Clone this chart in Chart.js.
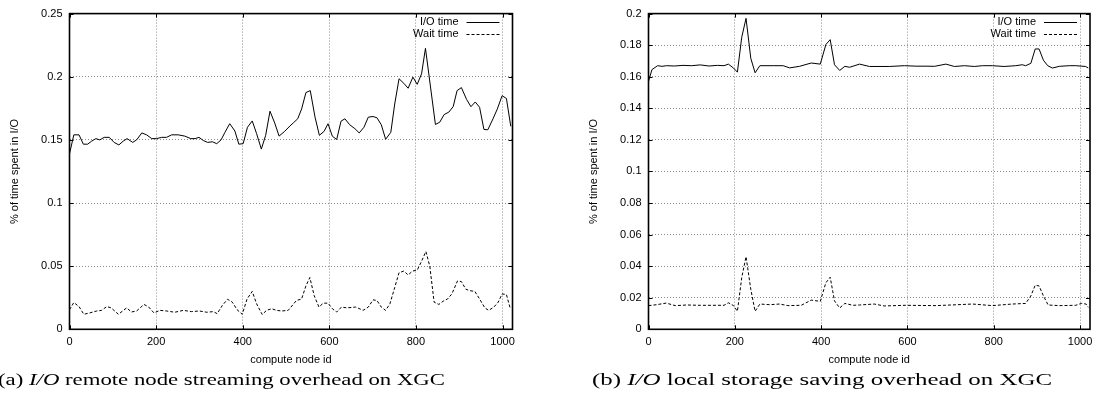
<!DOCTYPE html>
<html>
<head>
<meta charset="utf-8">
<script src="https://cdn.jsdelivr.net/npm/chart.js@4.4.0/dist/chart.umd.min.js"></script>
<style>
  html, body { margin: 0; padding: 0; background: #fff; width: 1101px; height: 411px; overflow: hidden; position: relative; }
  canvas { position: absolute; top: 0; }
  #cA { left: 0px; }
  #cB { left: 579px; }
  .cap { position: absolute; top: 370px; font-family: "Liberation Serif", "Times New Roman", serif; font-size: 17.5px; line-height: 18px; white-space: nowrap; color: #000; transform-origin: 0 0; }
</style>
</head>
<body>
<canvas id="cA" width="550" height="411"></canvas>
<canvas id="cB" width="522" height="411"></canvas>
<div class="cap" id="capA">(a) <i>I/O</i> remote node streaming overhead on XGC</div>
<div class="cap" id="capB">(b) <i>I/O</i> local storage saving overhead on XGC</div>
<script>
// ---------- data ----------
const seriesLabels = ['I/O time', 'Wait time'];
const xTitle = 'compute node id';
const yTitle = '% of time spent in I/O';
const xTickValues = [0, 200, 400, 600, 800, 1000];
const xTickLabels = ['0', '200', '400', '600', '800', '1000'];
const yTickLabelsA = ['0', '0.05', '0.1', '0.15', '0.2', '0.25'];
const yTickLabelsB = ['0', '0.02', '0.04', '0.06', '0.08', '0.1', '0.12', '0.14', '0.16', '0.18', '0.2'];

// (a) remote node streaming
const ioNodesA = [0,10,22,32,42,51,61,70,80,92,
  103,114,124,133,146,155,167,178,190,201,
  213,224,236,251,266,280,290,299,309,319,
  330,340,350,359,370,382,391,401,411,422,
  432,443,453,463,474,484,497,509,517,527,
  536,546,556,567,577,588,597,607,617,627,
  636,647,659,669,680,690,701,710,720,730,
  742,751,761,772,782,793,803,813,822,845,
  855,865,876,886,895,905,917,927,937,947,
  957,966,978,988,999,1009,1019];
const ioTimeA = [0.139,0.154,0.154,0.1466,0.1466,0.149,0.151,0.150,0.152,0.152,
  0.148,0.146,0.149,0.151,0.148,0.150,0.1555,0.154,0.151,0.151,
  0.152,0.152,0.154,0.154,0.153,0.151,0.151,0.152,0.1495,0.148,
  0.1485,0.147,0.150,0.156,0.1628,0.157,0.1466,0.147,0.160,0.165,
  0.155,0.1427,0.1536,0.1727,0.1633,0.153,0.1568,0.161,0.1635,0.1667,
  0.1745,0.1875,0.189,0.168,0.1536,0.1568,0.1628,0.1529,0.1503,0.1648,
  0.1667,0.162,0.1589,0.1555,0.160,0.168,0.1685,0.1675,0.162,0.1505,
  0.156,0.1784,0.1984,0.1948,0.1909,0.1997,0.194,0.2023,0.2225,0.1622,
  0.164,0.170,0.172,0.1763,0.189,0.1914,0.182,0.1763,0.180,0.1758,
  0.1583,0.158,0.1667,0.1745,0.185,0.1828,0.1607];
const waitNodesA = [0,10,22,33,47,63,74,86,96,113,
  132,143,155,172,183,195,209,224,243,263,
  282,300,317,332,341,353,365,376,387,399,
  410,422,432,445,455,467,478,490,505,524,
  536,546,555,565,576,586,597,607,617,628,
  640,661,678,690,701,710,720,730,740,751,
  761,772,782,792,803,813,823,832,842,853,
  863,873,883,896,905,915,924,936,947,959,
  968,980,990,999,1009,1018];
const waitTimeA = [0.0155,0.0212,0.018,0.0119,0.013,0.0145,0.015,0.018,0.017,0.0119,
  0.017,0.0137,0.0145,0.0197,0.0176,0.013,0.015,0.0145,0.0135,0.015,
  0.014,0.0145,0.0135,0.014,0.0124,0.0189,0.0238,0.0215,0.0155,0.0119,
  0.024,0.030,0.0202,0.0117,0.015,0.0163,0.015,0.0145,0.015,0.0228,
  0.024,0.0344,0.041,0.0267,0.0176,0.0207,0.0207,0.0163,0.0137,0.0176,
  0.017,0.0176,0.015,0.0176,0.0233,0.0228,0.0176,0.015,0.0202,0.0331,
  0.0448,0.0461,0.043,0.0461,0.0469,0.0539,0.0616,0.050,0.0215,0.0197,
  0.0223,0.024,0.028,0.0383,0.0378,0.0318,0.0306,0.030,0.024,0.017,
  0.015,0.0176,0.0215,0.028,0.0275,0.0163];

// (b) local storage saving
const ioNodesB = [0,8,21,31,42,60,80,100,120,140,
  160,175,185,197,206,216,226,237,247,258,
  289,312,327,350,377,398,411,421,431,443,
  455,466,489,512,558,593,620,643,663,689,
  709,732,755,774,797,824,851,866,874,886,
  896,905,915,925,936,952,975,990,1013,1019];
const ioTimeB = [0.157,0.1645,0.167,0.1666,0.167,0.1668,0.1672,0.167,0.1675,0.1668,
  0.1672,0.167,0.168,0.1655,0.1629,0.185,0.197,0.1717,0.1625,0.167,
  0.167,0.167,0.1656,0.1666,0.1687,0.168,0.1804,0.1835,0.1676,0.164,
  0.1666,0.166,0.168,0.1665,0.1665,0.167,0.1667,0.1667,0.1666,0.168,
  0.1665,0.167,0.1665,0.167,0.167,0.1665,0.167,0.1676,0.167,0.1685,
  0.1776,0.1776,0.1705,0.167,0.1655,0.1666,0.167,0.167,0.1665,0.1655];
const waitNodesB = [0,19,41,62,89,120,158,175,185,197,
  206,216,226,237,247,258,281,304,323,354,
  377,398,411,421,431,443,455,474,489,523,
  546,596,666,751,797,843,874,886,896,905,
  915,926,952,990,1003,1014,1019];
const waitTimeB = [0.015,0.0156,0.0166,0.015,0.0154,0.0152,0.0152,0.0152,0.0168,0.015,
  0.0114,0.0327,0.046,0.0254,0.0114,0.016,0.0156,0.016,0.015,0.0152,
  0.0185,0.0177,0.0295,0.033,0.018,0.0135,0.0164,0.0152,0.0154,0.016,
  0.0148,0.0152,0.015,0.016,0.015,0.016,0.0164,0.0212,0.0279,0.0275,
  0.0212,0.0154,0.015,0.0152,0.0164,0.016,0.0139];

// ---------- chart ----------
Chart.defaults.font.family = '"Liberation Sans", Arial, Helvetica, sans-serif';
Chart.defaults.font.size = 11;
Chart.defaults.color = '#000';

const frameAndLegend = {
  id: 'frameAndLegend',
  afterDatasetsDraw(chart) {
    const ctx = chart.ctx;
    const a = chart.chartArea;
    const xs = chart.scales.x, ys = chart.scales.y;
    ctx.save();
    ctx.strokeStyle = '#000';
    ctx.lineWidth = 1;
    ctx.setLineDash([]);
    const tl = 4;
    ctx.beginPath();
    xs.ticks.forEach(t => {
      const px = Math.round(xs.getPixelForValue(t.value)) + 0.5;
      ctx.moveTo(px, a.bottom); ctx.lineTo(px, a.bottom - tl);
      ctx.moveTo(px, a.top); ctx.lineTo(px, a.top + tl);
    });
    ys.ticks.forEach(t => {
      const py = Math.round(ys.getPixelForValue(t.value)) + 0.5;
      ctx.moveTo(a.left, py); ctx.lineTo(a.left + tl, py);
      ctx.moveTo(a.right, py); ctx.lineTo(a.right - tl, py);
    });
    ctx.stroke();
    ctx.lineWidth = 1.6;
    ctx.strokeRect(a.left, a.top, a.right - a.left, a.bottom - a.top);
    // key, top-right: label text left of the line sample
    ctx.font = '11px "Liberation Sans", Arial, sans-serif';
    ctx.textAlign = 'right';
    ctx.textBaseline = 'middle';
    ctx.fillStyle = '#000';
    chart.data.datasets.forEach((ds, i) => {
      const y = a.top + 8.5 + i * 12.3;
      ctx.fillText(ds.label, a.right - 54, y);
      ctx.beginPath();
      ctx.lineWidth = 1;
      ctx.setLineDash(ds.borderDash || []);
      ctx.moveTo(a.right - 46, Math.round(y) + 0.5);
      ctx.lineTo(a.right - 13, Math.round(y) + 0.5);
      ctx.stroke();
      ctx.setLineDash([]);
    });
    ctx.restore();
  }
};

function makeChart(id, ioN, ioV, wN, wV, yMax, yStep, yLabels, padRight) {
  const ioData = ioN.map((x, i) => ({ x: x, y: ioV[i] }));
  const wData = wN.map((x, i) => ({ x: x, y: wV[i] }));
  return new Chart(document.getElementById(id), {
    type: 'line',
    data: {
      datasets: [
        { label: seriesLabels[0], data: ioData, borderColor: '#000', borderWidth: 1, pointRadius: 0, tension: 0, fill: false },
        { label: seriesLabels[1], data: wData, borderColor: '#000', borderWidth: 1, borderDash: [3, 2], pointRadius: 0, tension: 0, fill: false }
      ]
    },
    options: {
      responsive: false,
      animation: false,
      events: [],
      layout: { padding: { left: 0, top: 8, right: padRight, bottom: 36.7 } },
      plugins: { legend: { display: false }, tooltip: { enabled: false } },
      scales: {
        x: {
          type: 'linear', min: 0, max: 1023,
          afterFit: (s) => { s.height = 45; },
          afterBuildTicks: (s) => { s.ticks = xTickValues.map(v => ({ value: v })); },
          ticks: { autoSkip: false, padding: 6, maxRotation: 0,
                   callback: (v) => xTickLabels[xTickValues.indexOf(v)] },
          grid: { color: '#8a8a8a', lineWidth: 1, drawTicks: false },
          border: { display: false, dash: [1, 2] },
          title: { display: true, text: xTitle, padding: { top: 0, bottom: 8 }, font: { size: 11 } }
        },
        y: {
          type: 'linear', min: 0, max: yMax,
          afterFit: (s) => { s.width = 69.5; },
          ticks: { stepSize: yStep, padding: 7,
                   callback: (v) => yLabels[Math.round(v / yStep)] },
          grid: { color: '#8a8a8a', lineWidth: 1, drawTicks: false },
          border: { display: false, dash: [1, 2] },
          title: { display: true, text: yTitle, padding: { top: 8.4, bottom: 0 }, font: { size: 11 } }
        }
      }
    },
    plugins: [frameAndLegend]
  });
}

makeChart('cA', ioNodesA, ioTimeA, waitNodesA, waitTimeA, 0.25, 0.05, yTickLabelsA, 37.5);
makeChart('cB', ioNodesB, ioTimeB, waitNodesB, waitTimeB, 0.2, 0.02, yTickLabelsB, 11);

// captions: fit to measured widths
function fitCap(id, left, width) {
  const el = document.getElementById(id);
  el.style.left = left + 'px';
  const w = el.getBoundingClientRect().width;
  el.style.transform = 'scaleX(' + (width / w) + ')';
}
fitCap('capA', -2, 447);
fitCap('capB', 592, 460);
</script>
</body>
</html>
